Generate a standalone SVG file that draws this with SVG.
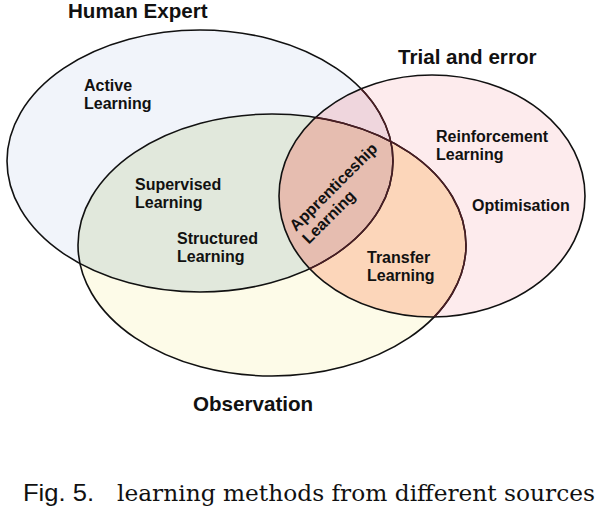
<svg xmlns="http://www.w3.org/2000/svg" width="604" height="511" viewBox="0 0 604 511">
  <defs>
    <style>
      .outline { fill: none; stroke: #111; stroke-width: 1.6; }
      .inner { fill: none; stroke: #4a1d23; stroke-width: 1.6; }
      .title { font-family: "Liberation Sans", Arial, sans-serif; font-weight: bold; font-size: 20.6px; fill: #111; }
      .label { font-family: "Liberation Sans", Arial, sans-serif; font-weight: bold; font-size: 16px; fill: #111; }
      .cap-sans { font-family: "Liberation Sans", Arial, sans-serif; font-size: 24px; fill: #111; }
      .cap-serif { font-family: "DejaVu Serif", "Liberation Serif", serif; font-size: 22px; fill: #111; }
    </style>
    <ellipse id="eBlue" cx="200" cy="161" rx="193" ry="131"/>
    <ellipse id="eYellow" cx="272" cy="245" rx="194" ry="131"/>
    <ellipse id="ePink" cx="432" cy="196" rx="153" ry="121"/>
    <clipPath id="clipBlue"><use href="#eBlue"/></clipPath>
    <clipPath id="clipYellow"><use href="#eYellow"/></clipPath>
    <clipPath id="clipPink"><use href="#ePink"/></clipPath>
  </defs>
  <rect width="604" height="511" fill="#ffffff"/>

  <!-- region fills -->
  <g id="fills">
    <use href="#eBlue" fill="#f1f4fa"/>
    <use href="#eYellow" fill="#fdfbe8"/>
    <use href="#ePink" fill="#fdebed"/>
    <g clip-path="url(#clipBlue)"><use href="#eYellow" fill="#e1e8dc"/></g>
    <g clip-path="url(#clipBlue)"><use href="#ePink" fill="#efd6dd"/></g>
    <g clip-path="url(#clipYellow)"><use href="#ePink" fill="#fcd6ba"/></g>
    <g clip-path="url(#clipBlue)"><g clip-path="url(#clipYellow)"><use href="#ePink" fill="#e6bdb0"/></g></g>
  </g>

  <g id="human-expert">
    <use href="#eBlue" class="outline"/>
    <text class="title" x="68" y="18">Human Expert</text>
  </g>
  <g id="observation">
    <use href="#eYellow" class="outline"/>
    <text class="title" x="193" y="411">Observation</text>
  </g>
  <g id="trial-and-error">
    <use href="#ePink" class="outline"/>
    <text class="title" x="398" y="64">Trial and error</text>
  </g>
  <g id="inner-lines" clip-path="url(#clipPink)">
    <use href="#eBlue" class="inner"/>
    <use href="#eYellow" class="inner"/>
  </g>

  <g id="active-learning">
    <text class="label" x="84" y="91">Active<tspan x="84" dy="18">Learning</tspan></text>
  </g>
  <g id="supervised-learning">
    <text class="label" x="135" y="190">Supervised<tspan x="135" dy="18">Learning</tspan></text>
  </g>
  <g id="structured-learning">
    <text class="label" x="177" y="244">Structured<tspan x="177" dy="18">Learning</tspan></text>
  </g>
  <g id="apprenticeship-learning">
    <text class="label" transform="translate(296,232) rotate(-45)" x="0" y="0">Apprenticeship<tspan x="0" dy="18">Learning</tspan></text>
  </g>
  <g id="transfer-learning">
    <text class="label" x="367" y="263">Transfer<tspan x="367" dy="18">Learning</tspan></text>
  </g>
  <g id="reinforcement-learning">
    <text class="label" x="436" y="142">Reinforcement<tspan x="436" dy="18">Learning</tspan></text>
  </g>
  <g id="optimisation">
    <text class="label" x="472" y="211">Optimisation</text>
  </g>

  <g id="caption">
    <text class="cap-sans" x="23" y="501" textLength="71" lengthAdjust="spacingAndGlyphs">Fig. 5.</text>
    <text class="cap-serif" x="117" y="501" textLength="478" lengthAdjust="spacingAndGlyphs">learning methods from different sources</text>
  </g>
</svg>
